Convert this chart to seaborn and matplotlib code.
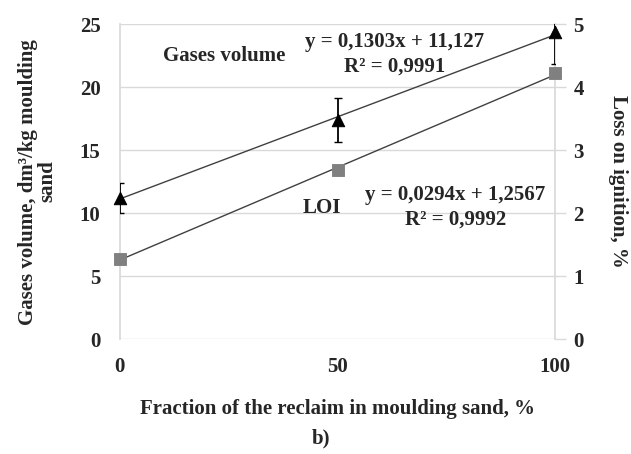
import matplotlib
matplotlib.use("Agg")
import matplotlib.pyplot as plt
import seaborn as sns
import numpy as np
import pandas as pd

# data
fraction = [0, 50, 100]
gases = [11.2, 17.4, 24.4]
gases_err = [1.2, 1.75, 2.6]
loi = [1.27, 2.68, 4.22]
gas_slope, gas_icpt = 0.1303, 11.127
loi_slope, loi_icpt = 0.0294, 1.2567
x_ticks = [0, 50, 100]
left_ticks = [0, 5, 10, 15, 20, 25]
right_ticks = [0, 1, 2, 3, 4, 5]

sns.set_theme(style="white")
plt.rcParams['font.family'] = ['Liberation Serif', 'DejaVu Serif']
plt.rcParams['font.weight'] = 'bold'

fig = plt.figure(figsize=(6.31, 4.54), dpi=100)
ax = fig.add_axes([0.190, 0.253, 0.690, 0.694])
ax2 = ax.twinx()

grid_c = '#d9d9d9'
df_g = pd.DataFrame({'x': fraction, 'y': gases})
df_l = pd.DataFrame({'x': fraction, 'y': loi})
xs = np.array([0, 100])
df_gt = pd.DataFrame({'x': xs, 'y': gas_slope * xs + gas_icpt})
df_lt = pd.DataFrame({'x': xs, 'y': loi_slope * xs + loi_icpt})

for yv in left_ticks:
    ax.axhline(yv, color=grid_c, lw=1.0, zorder=0)

sns.lineplot(data=df_gt, x='x', y='y', ax=ax, color='#404040', lw=1.0, zorder=2)
ax.errorbar(fraction, gases, yerr=gases_err, fmt='none', ecolor='black', elinewidth=1.3, capsize=3, zorder=3)
n_before = len(ax.collections)
sns.scatterplot(data=df_g, x='x', y='y', ax=ax, marker='^', color='black', s=80, edgecolor='black', zorder=4)
for c in ax.collections[n_before:]:
    c.set_clip_on(False)

sns.lineplot(data=df_lt, x='x', y='y', ax=ax2, color='#404040', lw=1.0, zorder=2)
sns.scatterplot(data=df_l, x='x', y='y', ax=ax2, marker='s', color='#808080', s=65, edgecolor='#808080', zorder=4)
for c in ax2.collections:
    c.set_clip_on(False)

ax.set_xlim(0, 100)
ax.set_ylim(0, 25)
ax2.set_ylim(0, 5)
ax.set_xticks(x_ticks)
ax.set_yticks(left_ticks)
ax2.set_yticks(right_ticks)
for a in (ax, ax2):
    for s in a.spines.values():
        s.set_visible(False)
ax.spines['left'].set_visible(True)
ax.spines['left'].set_color(grid_c)
ax.spines['right'].set_visible(True)
ax.spines['right'].set_color(grid_c)
ax.spines['left'].set_zorder(1)
ax.spines['right'].set_zorder(1)

fs = 15
ax.tick_params(axis='x', length=0, pad=13, labelsize=fs)
ax.tick_params(axis='y', length=0, pad=14, labelsize=fs)
ax2.tick_params(axis='y', length=8, color=grid_c, width=1, pad=5, labelsize=fs, right=True)
for lab in ax.get_xticklabels() + ax.get_yticklabels() + ax2.get_yticklabels():
    lab.set_fontweight('bold')

ax.set_xlabel('Fraction of the reclaim in moulding sand, %', fontsize=fs, fontweight='bold', labelpad=16)
ax.set_ylabel('Gases volume, dm³/kg moulding\nsand', fontsize=fs, fontweight='bold', labelpad=16, linespacing=0.95)
ax2.set_ylabel('Loss on ignition, %', fontsize=fs, fontweight='bold', rotation=-90, labelpad=32)

ax.text(24, 22.5, 'Gases volume', fontsize=fs, fontweight='bold', ha='center', va='center')
ax.text(63, 23.6, 'y = 0,1303x + 11,127', fontsize=fs, fontweight='bold', ha='center', va='center')
ax.text(63, 21.6, 'R² = 0,9991', fontsize=fs, fontweight='bold', ha='center', va='center')
ax.text(46.5, 10.4, 'LOI', fontsize=fs, fontweight='bold', ha='center', va='center')
ax.text(77, 11.4, 'y = 0,0294x + 1,2567', fontsize=fs, fontweight='bold', ha='center', va='center')
ax.text(77, 9.5, 'R² = 0,9992', fontsize=fs, fontweight='bold', ha='center', va='center')

fig.text(0.508, 0.035, 'b)', fontsize=fs, fontweight='bold', ha='center', va='center')

fig.savefig('out.png', dpi=100)
